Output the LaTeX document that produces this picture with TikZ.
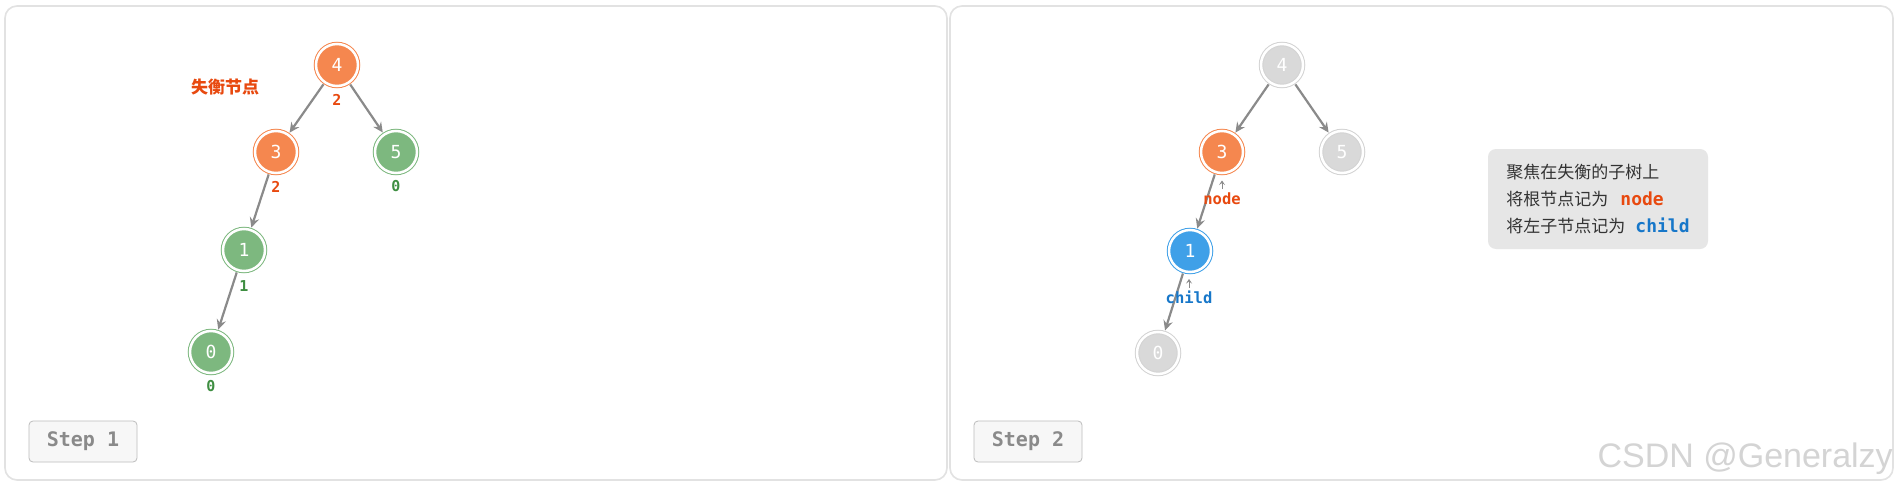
\documentclass[tikz,border=0pt]{standalone}
\usepackage{fontspec}
\setmainfont{DejaVu Sans}
\setmonofont{DejaVu Sans Mono}
\newfontfamily\cjk{Noto Sans CJK SC}
\newfontfamily\wmfont{Liberation Sans}
\usetikzlibrary{arrows.meta}
\definecolor{corange}{HTML}{F5874F}
\definecolor{corangeT}{HTML}{E8490F}
\definecolor{cgreen}{HTML}{7DB87F}
\definecolor{cgreenT}{HTML}{3E8E41}
\definecolor{cblue}{HTML}{3FA0E8}
\definecolor{cblueT}{HTML}{1777C9}
\definecolor{cgray}{HTML}{D9D9D9}
\definecolor{cgrayR}{HTML}{D3D3D3}
\definecolor{cedge}{HTML}{8A8A8A}
\definecolor{cpanel}{HTML}{E2E2E2}
\definecolor{cbox}{HTML}{E6E6E6}
\definecolor{ctext}{HTML}{333333}
\definecolor{cstep}{HTML}{F7F7F7}
\definecolor{cstepB}{HTML}{BDBDBD}
\definecolor{cstepT}{HTML}{8A8A8A}
\definecolor{cwm}{HTML}{D4D4D4}
\tikzset{
  tnode/.style={circle, minimum size=42pt, inner sep=0pt, outer sep=2.6pt, line width=1pt,
    double=white, double distance=2.5pt, text=white,
    font=\ttfamily\fontsize{18}{18}\selectfont},
  onode/.style={tnode, fill=corange, draw=corange},
  gnode/.style={tnode, fill=cgreen, draw=cgreen},
  bnode/.style={tnode, fill=cblue, draw=cblue},
  xnode/.style={tnode, fill=cgray, draw=cgrayR},
  edge/.style={draw=cedge, line width=2.2pt, -{Stealth[length=10pt,width=9.5pt,inset=3.5pt]}},
  bf/.style={inner sep=0pt, font=\ttfamily\bfseries\fontsize{15}{15}\selectfont},
  ptr/.style={inner sep=0pt, font=\ttfamily\bfseries\fontsize{15.5}{15.5}\selectfont},
  ptrarrow/.style={draw=cedge, line width=0.9pt, -{Stealth[length=4.5pt,width=6pt,inset=2pt]}},
  panel/.style={draw=cpanel, line width=1.6pt, fill=white, rounded corners=12pt},
  stepbox/.style={draw=cstepB, fill=cstep, line width=0.8pt, rounded corners=4pt,
    minimum width=108pt, minimum height=41pt, inner sep=0pt, text=cstepT,
    font=\ttfamily\bfseries\fontsize{20}{20}\selectfont},
  infobox/.style={fill=cbox, rounded corners=8pt, minimum width=220pt, minimum height=100pt,
    inner sep=0pt, align=left, text=ctext, font=\cjk\fontsize{17}{27}\selectfont},
}
\begin{document}
\begin{tikzpicture}[x=1pt,y=-1pt]
\useasboundingbox (0,0) rectangle (1901,487);
\fill[white] (0,0) rectangle (1901,487);
% panels
\draw[panel] (5,6) rectangle (947,480);
\draw[panel] (950,6) rectangle (1893,480);

% ---------- Step 1 ----------
\node[onode] (a4) at (337,65) {4};
\node[onode] (a3) at (276,152) {3};
\node[gnode] (a5) at (396,152) {5};
\node[gnode] (a1) at (244,250) {1};
\node[gnode] (a0) at (211,352) {0};
\draw[edge] (a4) -- (a3);
\draw[edge] (a4) -- (a5);
\draw[edge] (a3) -- (a1);
\draw[edge] (a1) -- (a0);
\node[bf, text=corangeT] (b4) at (337,100) {2};
\node[bf, text=corangeT] (b3) at (276,187) {2};
\node[bf, text=cgreenT] (b5) at (396,186) {0};
\node[bf, text=cgreenT] (b1) at (244,286) {1};
\node[bf, text=cgreenT] (b0) at (211,386) {0};
\node[inner sep=0pt, text=corangeT, font=\cjk\bfseries\fontsize{17}{17}\selectfont] (unb) at (225,87) {失衡节点};
\node[stepbox] (s1) at (83,441.5) {Step 1};

% ---------- Step 2 ----------
\node[xnode] (c4) at (1282,65) {4};
\node[onode] (c3) at (1222,152) {3};
\node[xnode] (c5) at (1342,152) {5};
\node[bnode] (c1) at (1190,251) {1};
\node[xnode] (c0) at (1158,353) {0};
\draw[edge] (c4) -- (c3);
\draw[edge] (c4) -- (c5);
\draw[edge] (c3) -- (c1);
\draw[edge] (c1) -- (c0);
\node[ptr, text=corangeT] (pn) at (1222,199) {node};
\coordinate (pnt) at (1222,180.5);
\draw[ptrarrow] (1222,189) coordinate (pnb) -- (pnt);
\node[ptr, text=cblueT] (pc) at (1189,297) {child};
\coordinate (pct) at (1189,279);
\draw[ptrarrow] (1189,287.5) coordinate (pcb) -- (pct);
\node[infobox] (info) at (1598,199) {聚焦在失衡的子树上\\
将根节点记为\hspace{12pt}{\ttfamily\bfseries\fontsize{18}{27}\selectfont\color{corangeT}node}\\
将左子节点记为\hspace{10pt}{\ttfamily\bfseries\fontsize{18}{27}\selectfont\color{cblueT}child}};
\node[stepbox] (s2) at (1028,441.5) {Step 2};

% watermark
\node[anchor=base east, inner sep=0pt, text=cwm, font=\wmfont\fontsize{34}{34}\selectfont] (wm) at (1893,467) {CSDN @Generalzy};
\end{tikzpicture}
\end{document}
